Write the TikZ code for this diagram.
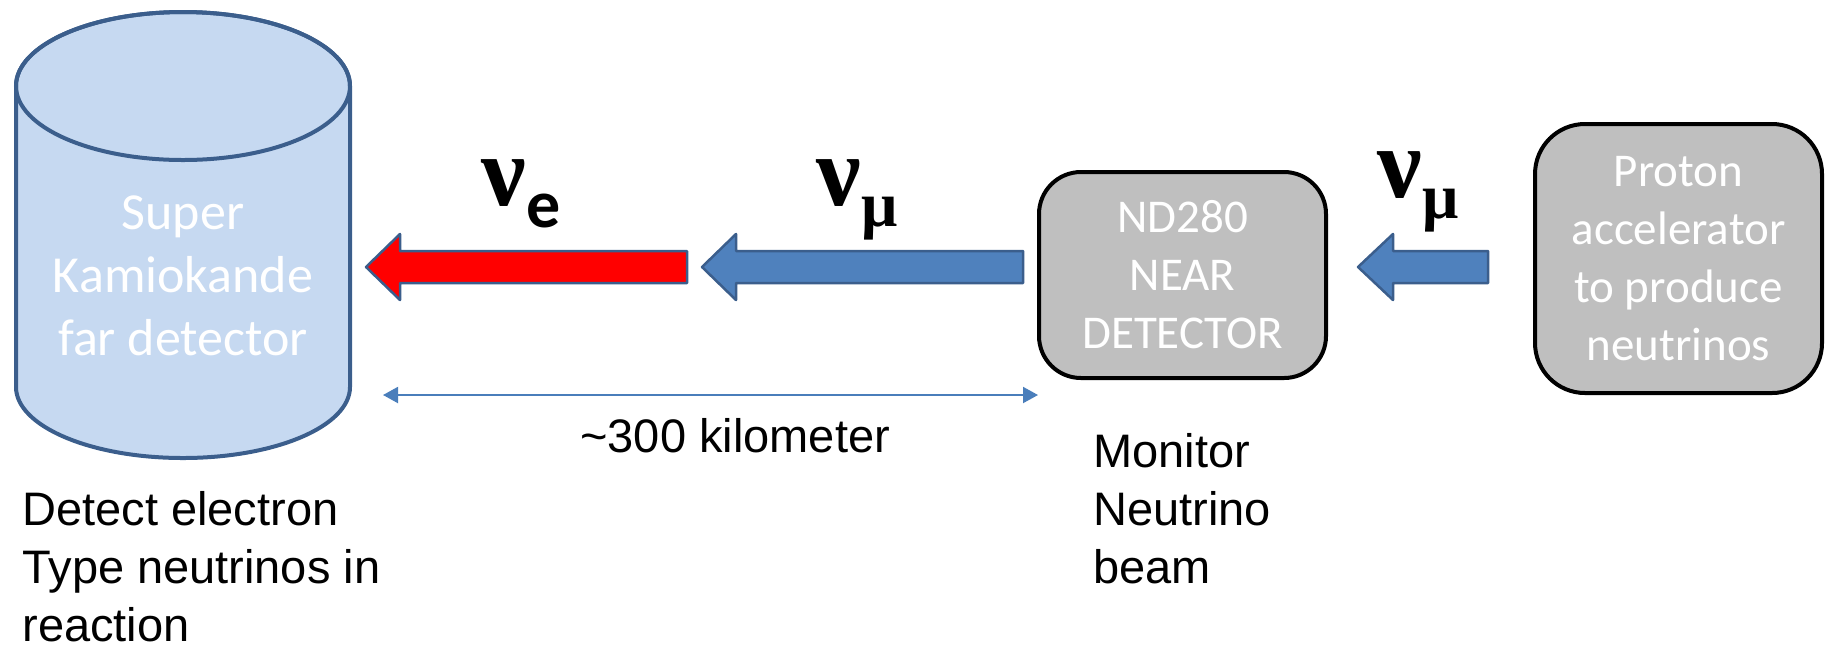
\documentclass[tikz,border=0pt]{standalone}
\usepackage{fontspec}
\setmainfont{Liberation Sans}
\newfontfamily\calfont{Carlito}
\newfontfamily\nufont{Liberation Serif}
\usetikzlibrary{arrows.meta}

\definecolor{cylfill}{HTML}{C6D9F1}
\definecolor{cylline}{HTML}{3B5E8C}
\definecolor{beamblue}{HTML}{4F81BD}
\definecolor{beamline}{HTML}{3B5E8C}
\definecolor{boxgray}{HTML}{BFBFBF}
\definecolor{dimblue}{HTML}{4A7EBB}

\begin{document}
\begin{tikzpicture}[x=0.5pt, y=-0.5pt, every node/.style={inner sep=0pt},
  detector/.style={draw=black, fill=boxgray, line width=2pt, minimum width=143.5pt,
    text=white, align=center, font=\calfont\fontsize{23.5}{29}\selectfont},
  beam/.style={draw=beamline, line width=1.25pt, line join=round},
  note/.style={align=left, anchor=base west, font=\fontsize{23.5}{29}\selectfont},
  flavour/.style={anchor=base west, font=\nufont\bfseries\fontsize{50}{50}\selectfont}]

\useasboundingbox (0,0) rectangle (1829,650);

% Far detector (cylinder)
\draw[line width=2pt, draw=cylline, fill=cylfill] (16,86) -- (16,387)
  arc[start angle=180, end angle=360, x radius=83.5pt, y radius=35.5pt]
  -- (350,86) arc[start angle=0, end angle=180, x radius=83.5pt, y radius=37pt] -- cycle;
\draw[line width=2pt, draw=cylline] (183,86) ellipse [x radius=83.5pt, y radius=37pt];
\node[text=white, align=center, font=\calfont\fontsize{26}{31.5}\selectfont] (sk) at (183,276)
  {Super\\Kamiokande\\far detector};

% Near detector and accelerator
\node[detector, minimum height=103pt, rounded corners=21pt] (nd) at (1182.5,275) {ND280\\NEAR\\DETECTOR};
\node[detector, minimum height=134.5pt, rounded corners=25pt] (acc) at (1678.5,258.5)
  {Proton\\accelerator\\to produce\\neutrinos};

% Beam arrows
\draw[beam, fill=red] (366,267) -- (400,234) -- (400,251) -- (687,251) -- (687,283) -- (400,283) -- (400,300) -- cycle;
\draw[beam, fill=beamblue] (702,267) -- (736,234) -- (736,251) -- (1023,251) -- (1023,283) -- (736,283) -- (736,300) -- cycle;
\draw[beam, fill=beamblue] (1358,267) -- (1393,234) -- (1393,251) -- (1488,251) -- (1488,283) -- (1393,283) -- (1393,300) -- cycle;

% Flavour labels
\node[flavour] (nuE) at (481,205) {ν\raisebox{-11pt}{\calfont\bfseries\fontsize{34}{34}\selectfont e}};
\node[flavour] (nuMuA) at (816,205) {ν\raisebox{-10.5pt}{\fontsize{32}{32}\selectfont μ}};
\node[flavour] (nuMuB) at (1377,197) {ν\raisebox{-10.5pt}{\fontsize{32}{32}\selectfont μ}};

% Distance
\coordinate (kmL) at (383,395);
\coordinate (kmR) at (1038,395);
\draw[dimblue, line width=1pt, {Triangle[length=7.5pt,width=8pt]}-{Triangle[length=7.5pt,width=8pt]}] (kmL) -- (kmR);
\node[note] (km) at (580,452) {\textasciitilde 300 kilometer};

% Notes (base = last line)
\node[note] (ndNote) at (1093,583) {Monitor\\Neutrino\\beam};
\node[note] (skNote) at (22,641) {Detect electron\\Type neutrinos in\\reaction};

\end{tikzpicture}
\end{document}
